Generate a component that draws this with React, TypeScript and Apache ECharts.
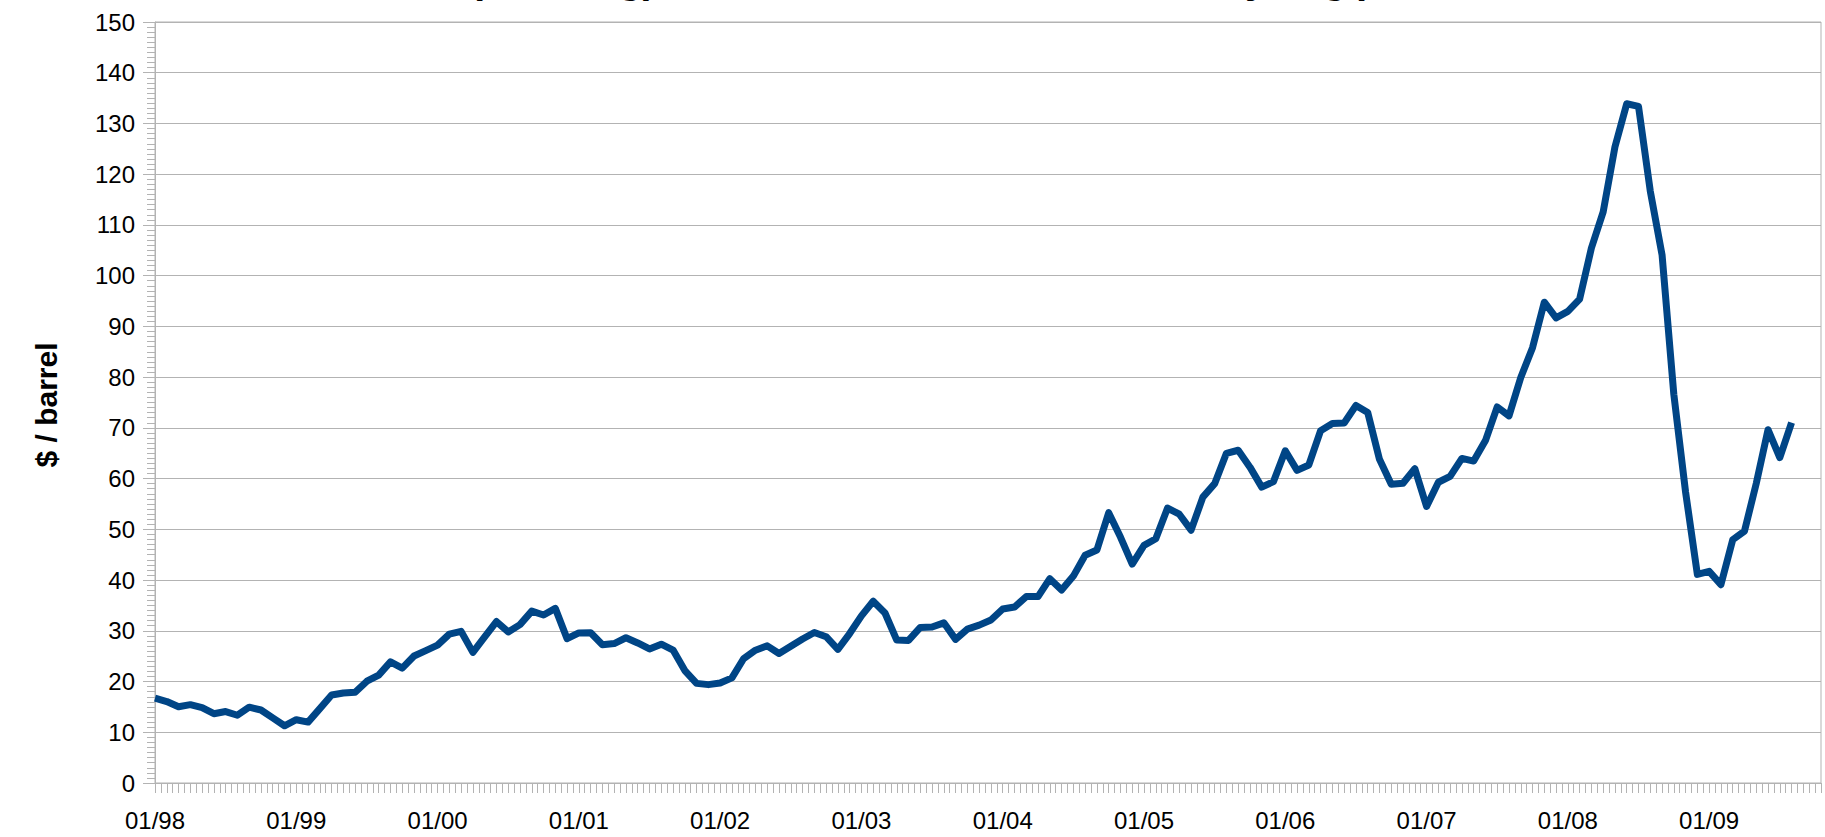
import React, { useEffect, useRef } from "react";
import * as echarts from "echarts";

// WTI (Cushing) monthly average price, $ / barrel, Jan 1998 .. Aug 2009
const y1998 = [16.71, 16.06, 15.02, 15.44, 14.86, 13.66, 14.08, 13.36, 14.95, 14.39, 12.85, 11.28];
const y1999 = [12.47, 12.01, 14.66, 17.34, 17.75, 17.89, 20.07, 21.26, 23.88, 22.64, 25.03, 26.1];
const y2000 = [27.18, 29.35, 29.89, 25.74, 28.78, 31.83, 29.77, 31.22, 33.88, 33.11, 34.42, 28.44];
const y2001 = [29.59, 29.61, 27.25, 27.49, 28.63, 27.6, 26.43, 27.37, 26.2, 22.17, 19.64, 19.39];
const y2002 = [19.72, 20.72, 24.53, 26.18, 27.04, 25.52, 26.97, 28.39, 29.66, 28.84, 26.35, 29.46];
const y2003 = [32.95, 35.83, 33.51, 28.17, 28.11, 30.66, 30.76, 31.57, 28.31, 30.34, 31.11, 32.13];
const y2004 = [34.31, 34.69, 36.74, 36.75, 40.28, 38.03, 40.78, 44.9, 45.94, 53.28, 48.47, 43.15];
const y2005 = [46.84, 48.15, 54.19, 52.98, 49.83, 56.35, 59.0, 64.99, 65.59, 62.26, 58.32, 59.41];
const y2006 = [65.49, 61.63, 62.69, 69.44, 70.84, 70.95, 74.41, 73.04, 63.8, 58.89, 59.08, 61.96];
const y2007 = [54.51, 59.28, 60.44, 63.98, 63.46, 67.49, 74.12, 72.36, 79.92, 85.8, 94.77, 91.69];
const y2008 = [92.97, 95.39, 105.45, 112.58, 125.4, 133.88, 133.37, 116.67, 104.11, 76.61, 57.31, 41.12];
const y2009 = [41.71, 39.09, 47.94, 49.65, 59.03, 69.64, 64.15, 71.05];

const years = ["98", "99", "00", "01", "02", "03", "04", "05", "06", "07", "08", "09"];
const yTicks = { min: 0, max: 150, step: 10 };
const titleText = "WTI (Cushing) crude oil in US dollars, monthly avg.)";
const yTitle = "$ / barrel";

const prices = [
  ...y1998, ...y1999, ...y2000, ...y2001, ...y2002, ...y2003,
  ...y2004, ...y2005, ...y2006, ...y2007, ...y2008, ...y2009,
];

const FONT = "'Liberation Sans', Arial, sans-serif";
const GRAY = "#b3b3b3";

export default function App() {
  const ref = useRef<HTMLDivElement>(null);
  useEffect(() => {
    if (!ref.current) return;
    const chart = echarts.init(ref.current, null, { renderer: "svg" });
    const option = {
      animation: false,
      backgroundColor: "#ffffff",
      grid: {
        left: 155,
        right: 4,
        top: 22,
        bottom: 54,
        show: true,
        borderColor: GRAY,
        borderWidth: 1,
        backgroundColor: "transparent",
      },
      xAxis: {
        type: "value",
        min: 0,
        max: 141.5,
        interval: 0.5,
        axisLine: { show: true, lineStyle: { color: GRAY, width: 1 } },
        axisTick: { show: true, length: 10, lineStyle: { color: GRAY, width: 1 } },
        splitLine: { show: false },
        axisLabel: {
          color: "#000",
          fontSize: 24,
          fontFamily: FONT,
          margin: 25,
          showMinLabel: true,
          showMaxLabel: true,
          formatter: (v: number) => {
            const k = v / 12;
            if (Math.abs(k - Math.round(k)) > 1e-6) return "";
            const yr = years[Math.round(k)];
            return yr ? "01/" + yr : "";
          },
        },
      },
      yAxis: {
        type: "value",
        min: yTicks.min,
        max: yTicks.max,
        interval: yTicks.step,
        axisLine: { show: true, lineStyle: { color: GRAY, width: 1 } },
        axisTick: { show: true, length: 12, lineStyle: { color: GRAY, width: 1 } },
        minorTick: { show: true, splitNumber: 10, length: 8, lineStyle: { color: GRAY, width: 1 } },
        splitLine: { show: true, lineStyle: { color: GRAY, width: 1 } },
        axisLabel: { color: "#000", fontSize: 24, fontFamily: FONT, margin: 20 },
      },
      series: [
        {
          type: "line",
          data: prices.map((v, i) => [i, v]),
          symbol: "none",
          showSymbol: false,
          lineStyle: { color: "#004586", width: 7, join: "round", cap: "butt" },
          itemStyle: { color: "#004586" },
        },
      ],
      graphic: [
        {
          type: "text",
          left: 385,
          top: -41,
          style: {
            text: titleText,
            font: `bold 40px ${FONT}`,
            fill: "#000",
          },
        },
        {
          type: "text",
          x: 46,
          y: 405,
          rotation: Math.PI / 2,
          style: {
            text: yTitle,
            font: `bold 30px ${FONT}`,
            fill: "#000",
            align: "center",
            verticalAlign: "middle",
          },
        },
      ],
    };
    chart.setOption(option as any);
    return () => chart.dispose();
  }, []);
  return (
    <div
      ref={ref}
      style={{ position: "absolute", left: 0, top: 0, width: 1825, height: 837 }}
    />
  );
}
